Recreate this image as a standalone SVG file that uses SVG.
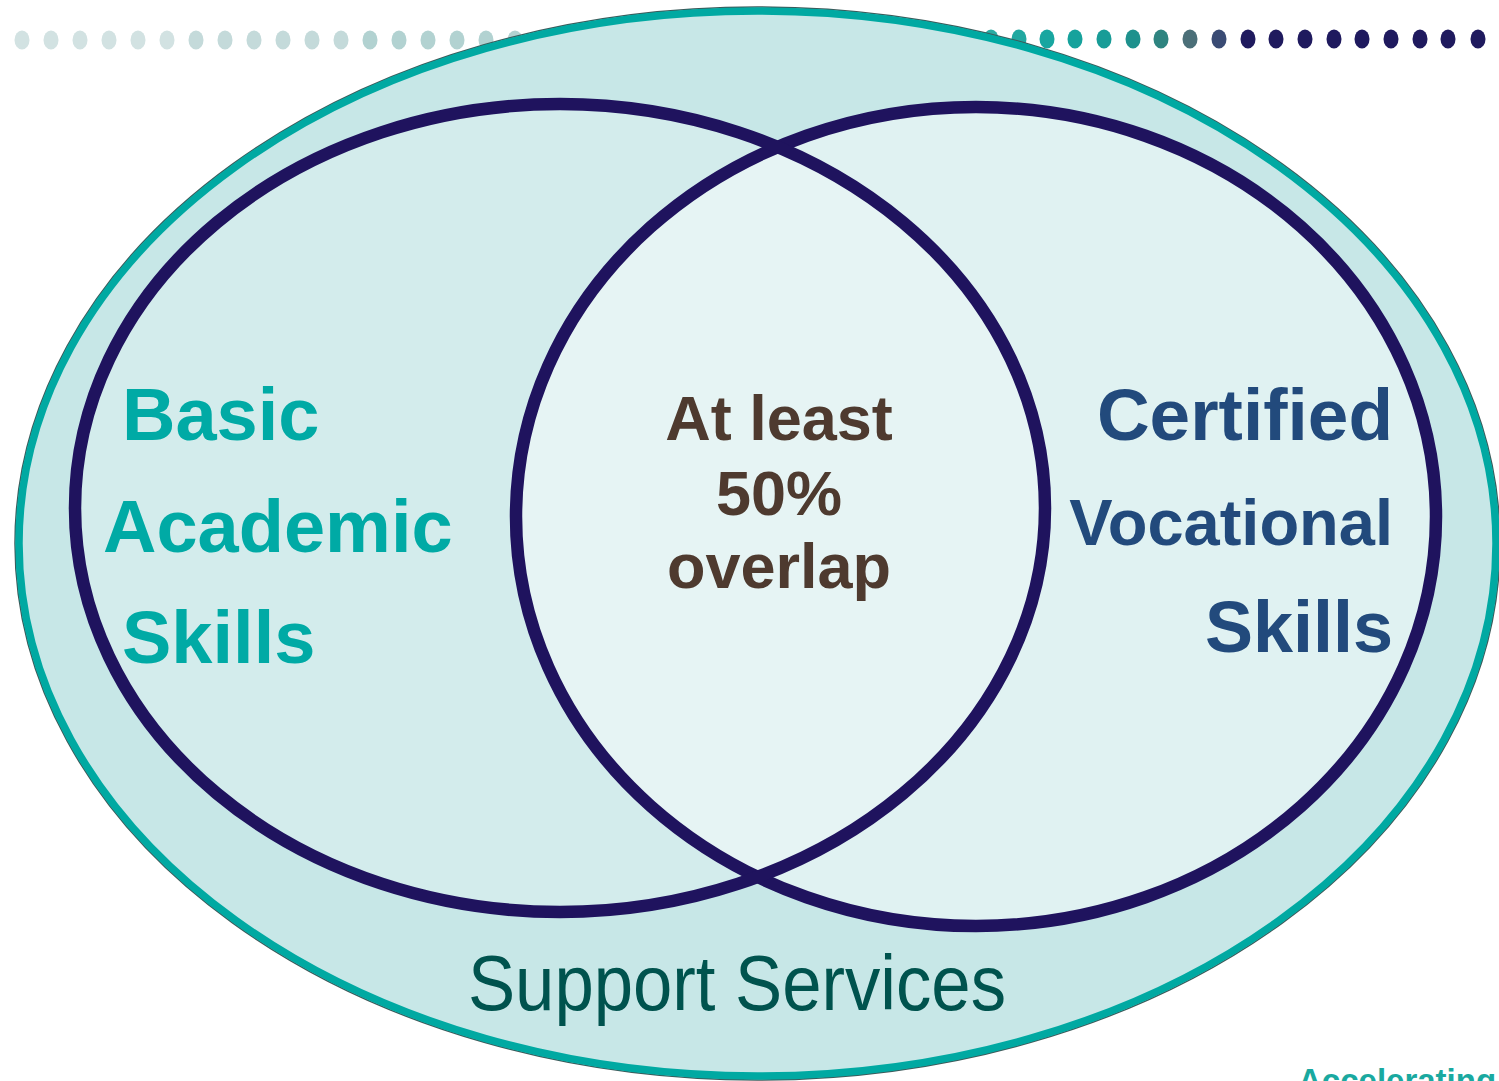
<svg xmlns="http://www.w3.org/2000/svg" width="1499" height="1081" viewBox="0 0 1499 1081">
<style>
.b{font-family:"Liberation Sans",Arial,sans-serif;font-weight:bold}
.teal{fill:#00AAA5}
.navy{fill:#224A7C}
.brown{fill:#4E3A2F}
.ring{fill:none;stroke:#1F135E;stroke-width:12.5}
.d{rx:7.5px;ry:9.5px}
</style>
<defs>
<clipPath id="clipL"><ellipse cx="560" cy="508" rx="485" ry="404"/></clipPath>
</defs>
<rect width="1499" height="1081" fill="#FFFFFF"/>
<g id="dots">
<g fill="#D2E2E2">
<ellipse class="d" cx="22" cy="40" rx="7.5" ry="9.5"/><ellipse cx="51" cy="40" rx="7.5" ry="9.5"/><ellipse cx="80" cy="40" rx="7.5" ry="9.5"/><ellipse cx="109" cy="40" rx="7.5" ry="9.5"/><ellipse cx="138" cy="40" rx="7.5" ry="9.5"/><ellipse cx="167" cy="40" rx="7.5" ry="9.5"/>
</g>
<g fill="#C4DADA">
<ellipse cx="196" cy="40" rx="7.5" ry="9.5"/><ellipse cx="225" cy="40" rx="7.5" ry="9.5"/><ellipse cx="254" cy="40" rx="7.5" ry="9.5"/><ellipse cx="283" cy="40" rx="7.5" ry="9.5"/><ellipse cx="312" cy="40" rx="7.5" ry="9.5"/><ellipse cx="341" cy="40" rx="7.5" ry="9.5"/>
</g>
<g fill="#B2D2D1">
<ellipse cx="370" cy="40" rx="7.5" ry="9.5"/><ellipse cx="399" cy="40" rx="7.5" ry="9.5"/><ellipse cx="428" cy="40" rx="7.5" ry="9.5"/><ellipse cx="457" cy="40" rx="7.5" ry="9.5"/><ellipse cx="486" cy="40" rx="7.5" ry="9.5"/><ellipse cx="515" cy="40" rx="7.5" ry="9.5"/>
</g>
<ellipse cx="991" cy="39" rx="7.5" ry="9.5" fill="#2AABA3"/>
<ellipse cx="1019" cy="39" rx="7.5" ry="9.5" fill="#20A8A0"/>
<ellipse cx="1047" cy="39" rx="7.5" ry="9.5" fill="#18A6A0"/>
<ellipse cx="1075" cy="39" rx="7.5" ry="9.5" fill="#16A29C"/>
<ellipse cx="1104" cy="39" rx="7.5" ry="9.5" fill="#189C97"/>
<ellipse cx="1133" cy="39" rx="7.5" ry="9.5" fill="#1E918D"/>
<ellipse cx="1161" cy="39" rx="7.5" ry="9.5" fill="#2E8480"/>
<ellipse cx="1190" cy="39" rx="7.5" ry="9.5" fill="#4B6F78"/>
<ellipse cx="1219" cy="39" rx="7.5" ry="9.5" fill="#3A4B74"/>
<g fill="#1F1A5E">
<ellipse cx="1248" cy="39" rx="7.5" ry="9.5"/><ellipse cx="1276" cy="39" rx="7.5" ry="9.5"/><ellipse cx="1305" cy="39" rx="7.5" ry="9.5"/><ellipse cx="1334" cy="39" rx="7.5" ry="9.5"/><ellipse cx="1362" cy="39" rx="7.5" ry="9.5"/><ellipse cx="1391" cy="39" rx="7.5" ry="9.5"/><ellipse cx="1420" cy="39" rx="7.5" ry="9.5"/><ellipse cx="1448" cy="39" rx="7.5" ry="9.5"/><ellipse cx="1478" cy="39" rx="7.5" ry="9.5"/>
</g>
</g>
<g id="support-services">
<ellipse cx="757.5" cy="543.5" rx="742.5" ry="536.5" fill="none" stroke="#3C5A5A" stroke-width="1.5"/>
<ellipse cx="757.5" cy="543.5" rx="738.5" ry="532.5" fill="#C7E7E7" stroke="#00A9A2" stroke-width="7.5"/>
<text x="737" y="1010" text-anchor="middle" font-family="'Liberation Sans', Arial, sans-serif" font-size="77" textLength="538" lengthAdjust="spacingAndGlyphs" fill="#00534E">Support Services</text>
</g>
<g id="basic-academic">
<ellipse cx="560" cy="508" rx="485" ry="404" fill="#D3ECEC"/>
</g>
<g id="certified-vocational">
<ellipse cx="976" cy="516.5" rx="460" ry="409.5" fill="#E0F2F2"/>
</g>
<g id="overlap">
<ellipse cx="976" cy="516.5" rx="460" ry="409.5" fill="#E6F4F4" clip-path="url(#clipL)"/>
</g>
<g id="rings">
<ellipse class="ring" cx="976" cy="516.5" rx="460" ry="409.5"/>
<ellipse class="ring" cx="560" cy="508" rx="485" ry="404"/>
</g>
<g id="labels">
<text class="b teal" font-size="74" x="122" y="440">Basic</text>
<text class="b teal" font-size="74" x="103" y="552">Academic</text>
<text class="b teal" font-size="74" x="122" y="663">Skills</text>
<text class="b navy" font-size="73" x="1393" y="440" text-anchor="end">Certified</text>
<text class="b navy" font-size="65" x="1393" y="545" text-anchor="end">Vocational</text>
<text class="b navy" font-size="72" x="1393" y="652" text-anchor="end">Skills</text>
<text class="b brown" font-size="63" x="779" y="440" text-anchor="middle">At least</text>
<text class="b brown" font-size="63" x="779" y="515" text-anchor="middle">50%</text>
<text class="b brown" font-size="63" x="779" y="588" text-anchor="middle">overlap</text>
</g>
<text class="b" font-size="33" x="1298" y="1092" fill="#1AA9A0">Accelerating</text>
</svg>
